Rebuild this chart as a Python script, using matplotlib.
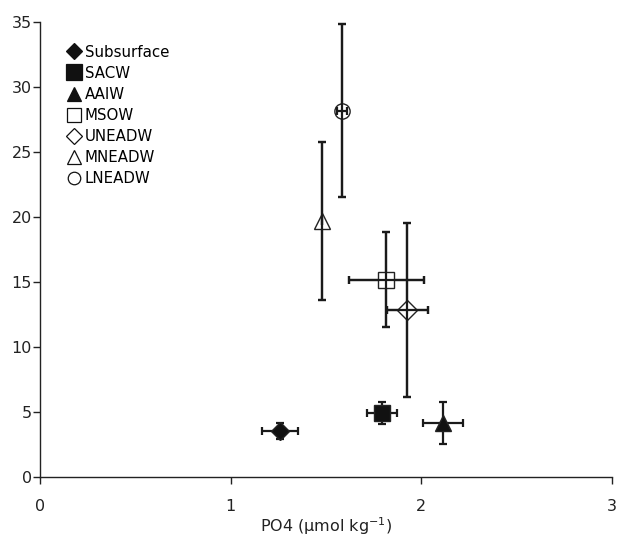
import matplotlib
matplotlib.use("Agg")
import matplotlib.pyplot as plt
from matplotlib.lines import Line2D

# Water masses: PO4 (x) against the y quantity, with error bars
names = ["Subsurface", "SACW", "AAIW", "MSOW", "UNEADW", "MNEADW", "LNEADW"]
po4 = [1.26, 1.795, 2.113, 1.817, 1.928, 1.481, 1.583]
po4_err = [0.096, 0.077, 0.105, 0.198, 0.106, 0.0, 0.026]
yval = [3.55, 4.95, 4.15, 15.2, 12.85, 19.7, 28.2]
yval_err = [0.6, 0.85, 1.6, 3.63, 6.67, 6.1, 6.67]
markers = ["D", "s", "^", "s", "D", "^", "o"]
filled = [True, True, True, False, False, False, False]
msizes = [9, 12, 11, 12, 10, 12, 11]
legend_sizes = [8, 11, 10, 10, 8, 10, 9]

xticks = [0, 1, 2, 3]
yticks = [0, 5, 10, 15, 20, 25, 30, 35]

fig = plt.figure(figsize=(6.17, 5.37), dpi=100)
ax = fig.add_axes([0.0648, 0.1117, 0.9266, 0.8468])

err_style = dict(fmt="none", ecolor="#1a1a1a", elinewidth=1.6,
                 capsize=3.0, capthick=1.6)

for i, name in enumerate(names):
    face = "#111111" if filled[i] else "white"
    ax.errorbar(po4[i], yval[i], xerr=po4_err[i], yerr=yval_err[i],
                zorder=2, **err_style)
    ax.plot(po4[i], yval[i], marker=markers[i], ms=msizes[i],
            mfc=face, mec="#222222", mew=1.0, ls="none", zorder=3)
    # error lines stay visible through the open markers
    if not filled[i]:
        ax.errorbar(po4[i], yval[i], xerr=po4_err[i], yerr=yval_err[i],
                    zorder=4, **err_style)

ax.set_xlim(0, 3)
ax.set_ylim(0, 35)
ax.set_xticks(xticks)
ax.set_yticks(yticks)
ax.spines["top"].set_visible(False)
ax.spines["right"].set_visible(False)
for s in ["left", "bottom"]:
    ax.spines[s].set_linewidth(1.0)
    ax.spines[s].set_color("#222222")
ax.tick_params(axis="y", direction="out", length=5, width=1.0,
               labelsize=11.5, pad=1, colors="#222222")
ax.tick_params(axis="x", direction="out", length=5, width=1.0,
               labelsize=11.5, pad=10.5, colors="#222222")
ax.set_xlabel("PO4 (µmol kg$^{-1}$)", fontsize=11.5, labelpad=1, color="#222222")

handles = []
for i, name in enumerate(names):
    face = "#111111" if filled[i] else "white"
    handles.append(Line2D([], [], marker=markers[i], ls="none",
                          ms=legend_sizes[i], mfc=face,
                          mec="#111111", mew=0.9))
ax.legend(handles, names, loc="upper left", bbox_to_anchor=(0.049, 0.951),
          frameon=False, fontsize=10.8, handlelength=0.8, handletextpad=0.32,
          labelspacing=0.41, borderaxespad=0.0, borderpad=0.0)

fig.savefig("out.png", dpi=100)
